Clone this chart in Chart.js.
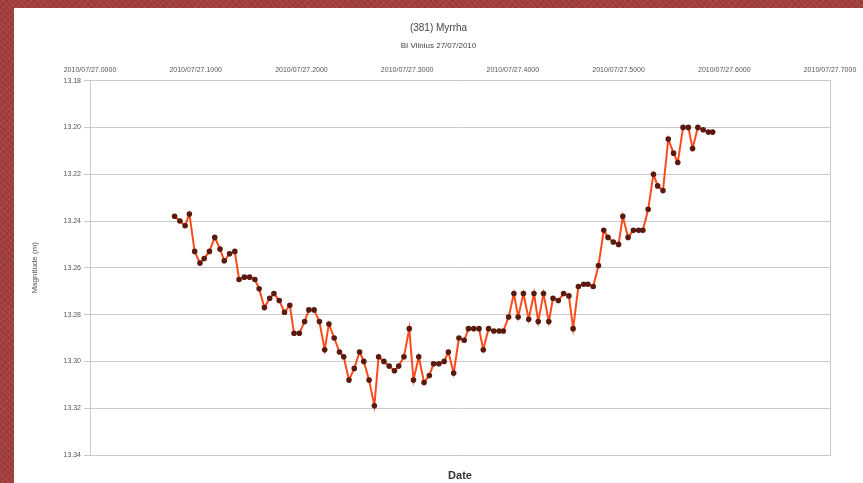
<!DOCTYPE html>
<html>
<head>
<meta charset="utf-8">
<script src="https://cdn.jsdelivr.net/npm/chart.js@4"></script>
<style>
  html, body { margin: 0; padding: 0; }
  body {
    width: 863px; height: 483px; overflow: hidden; position: relative;
    background-color: #a53f3e;
    background-image:
      repeating-linear-gradient(45deg, rgba(0,0,0,0.05) 0 2px, rgba(255,255,255,0.03) 2px 4px),
      repeating-linear-gradient(-45deg, rgba(0,0,0,0.04) 0 3px, rgba(255,255,255,0.02) 3px 5px);
  }
  #panel {
    position: absolute; left: 14px; top: 8px; width: 849px; height: 475px;
    background: #ffffff;
  }
</style>
</head>
<body>
<div id="panel"><canvas id="lightCurve"></canvas></div>
<script>
const obsTimes = [
    27.080, 27.085, 27.090, 27.094, 27.099, 27.104, 27.108, 27.113, 27.118, 27.123,
    27.127, 27.132, 27.137, 27.141, 27.146, 27.151, 27.156, 27.160, 27.165, 27.170,
    27.174, 27.179, 27.184, 27.189, 27.193, 27.198, 27.203, 27.207, 27.212, 27.217,
    27.222, 27.226, 27.231, 27.236, 27.240, 27.245, 27.250, 27.255, 27.259, 27.264,
    27.269, 27.273, 27.278, 27.283, 27.288, 27.292, 27.297, 27.302, 27.306, 27.311,
    27.316, 27.321, 27.325, 27.330, 27.335, 27.339, 27.344, 27.349, 27.354, 27.358,
    27.363, 27.368, 27.372, 27.377, 27.382, 27.387, 27.391, 27.396, 27.401, 27.405,
    27.410, 27.415, 27.420, 27.424, 27.429, 27.434, 27.438, 27.443, 27.448, 27.453,
    27.457, 27.462, 27.467, 27.471, 27.476, 27.481, 27.486, 27.490, 27.495, 27.500,
    27.504, 27.509, 27.514, 27.519, 27.523, 27.528, 27.533, 27.537, 27.542, 27.547,
    27.552, 27.556, 27.561, 27.566, 27.570, 27.575, 27.580, 27.585, 27.589
];
const magnitudes = [
    13.238, 13.240, 13.242, 13.237, 13.253, 13.258, 13.256, 13.253, 13.247, 13.252,
    13.257, 13.254, 13.253, 13.265, 13.264, 13.264, 13.265, 13.269, 13.277, 13.273,
    13.271, 13.274, 13.279, 13.276, 13.288, 13.288, 13.283, 13.278, 13.278, 13.283,
    13.295, 13.284, 13.290, 13.296, 13.298, 13.308, 13.303, 13.296, 13.300, 13.308,
    13.319, 13.298, 13.300, 13.302, 13.304, 13.302, 13.298, 13.286, 13.308, 13.298,
    13.309, 13.306, 13.301, 13.301, 13.300, 13.296, 13.305, 13.290, 13.291, 13.286,
    13.286, 13.286, 13.295, 13.286, 13.287, 13.287, 13.287, 13.281, 13.271, 13.281,
    13.271, 13.282, 13.271, 13.283, 13.271, 13.283, 13.273, 13.274, 13.271, 13.272,
    13.286, 13.268, 13.267, 13.267, 13.268, 13.259, 13.244, 13.247, 13.249, 13.250,
    13.238, 13.247, 13.244, 13.244, 13.244, 13.235, 13.220, 13.225, 13.227, 13.205,
    13.211, 13.215, 13.200, 13.200, 13.209, 13.200, 13.201, 13.202, 13.202
];
const chartTitle = '(381) Myrrha';
const chartSubtitle = 'BI Vilnius 27/07/2010';
const datePrefix = '2010/07/';

const points = obsTimes.map((t, i) => ({ x: t, y: magnitudes[i] }));

const axisFont = { family: 'Liberation Sans', size: 7 };
const gridGrey = '#c9c9c9';

const ctx = document.getElementById('lightCurve').getContext('2d');
const lightCurve = new Chart(ctx, {
    type: 'line',
    data: {
        datasets: [{
            label: 'Magnitude',
            data: points,
            borderColor: '#ff4a1c',
            borderWidth: 2,
            pointBackgroundColor: '#5a1a10',
            pointBorderColor: '#5a1a10',
            pointRadius: 1.8,
            tension: 0,
            fill: false
        }]
    },
    options: {
        responsive: true,
        maintainAspectRatio: false,
        animation: false,
        layout: { padding: { left: 0, right: 0, top: 10, bottom: 0 } },
        scales: {
            x: {
                type: 'linear',
                position: 'top',
                min: 27.0,
                max: 27.7,
                ticks: {
                    stepSize: 0.1,
                    font: axisFont,
                    color: '#555',
                    maxRotation: 0,
                    padding: 2,
                    callback: v => datePrefix + v.toFixed(4)
                },
                grid: { display: false, drawTicks: true, tickLength: 4, color: gridGrey },
                border: { color: gridGrey },
                afterFit: s => { s.height = 24; }
            },
            x2: {
                type: 'linear',
                position: 'bottom',
                min: 27.0,
                max: 27.7,
                ticks: { display: false },
                grid: { display: false, drawTicks: false },
                border: { color: gridGrey },
                title: {
                    display: true,
                    text: 'Date',
                    font: { family: 'Liberation Sans', size: 11, weight: 'bold' },
                    color: '#333',
                    padding: { top: 12, bottom: 0 }
                },
                afterFit: s => { s.height = 28; }
            },
            y: {
                reverse: true,
                min: 13.18,
                max: 13.34,
                ticks: {
                    stepSize: 0.02,
                    font: axisFont,
                    color: '#555',
                    padding: 3,
                    callback: v => v.toFixed(2)
                },
                grid: { color: gridGrey, tickLength: 6 },
                border: { color: gridGrey },
                title: {
                    display: true,
                    text: 'Magnitude (m)',
                    font: { family: 'Liberation Sans', size: 8 },
                    color: '#555',
                    padding: { top: 16, bottom: 0 }
                },
                afterFit: s => { s.width = 76; }
            },
            y2: {
                position: 'right',
                min: 13.18,
                max: 13.34,
                ticks: { display: false },
                grid: { display: false, drawTicks: false },
                border: { color: gridGrey },
                afterFit: s => { s.width = 33; }
            }
        },
        plugins: {
            legend: { display: false },
            tooltip: { enabled: false },
            title: {
                display: true,
                text: chartTitle,
                font: { family: 'Liberation Sans', size: 10, weight: 'normal' },
                color: '#444',
                padding: { top: 4, bottom: 4 }
            },
            subtitle: {
                display: true,
                text: chartSubtitle,
                font: { family: 'Liberation Sans', size: 8 },
                color: '#444',
                padding: { top: 3, bottom: 6 }
            }
        }
    }
});
</script>
</body>
</html>
